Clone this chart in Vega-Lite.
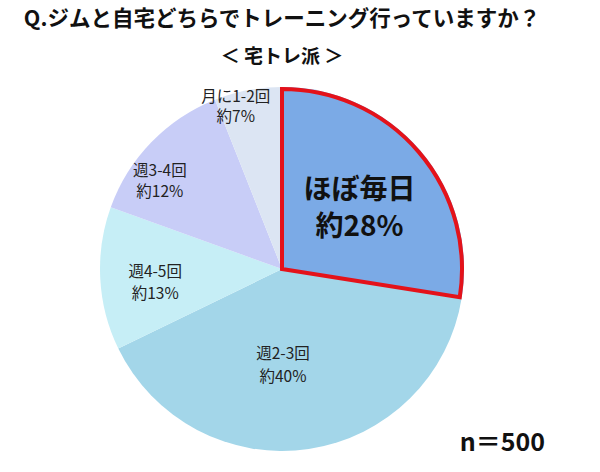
{
  "$schema": "https://vega.github.io/schema/vega-lite/v6.json",
  "padding": {"left": 0, "top": 8, "right": 0, "bottom": 0},
  "background": "white",
  "config": {
    "view": {"stroke": null},
    "font": "Noto Sans CJK JP",
    "concat": {"spacing": 0}
  },
  "title": {
    "text": "Q.ジムと自宅どちらでトレーニング行っていますか？",
    "subtitle": "＜ 宅トレ派 ＞",
    "anchor": "middle",
    "font": "Noto Sans CJK JP",
    "fontSize": 21.5,
    "fontWeight": "bold",
    "color": "#111111",
    "subtitleFont": "Noto Sans CJK JP",
    "subtitleFontSize": 19,
    "subtitleFontWeight": "bold",
    "subtitleColor": "#111111",
    "subtitlePadding": 18,
    "offset": 12
  },
  "vconcat": [
    {
      "width": 564,
      "height": 380,
      "title": {
        "text": "n＝500",
        "orient": "bottom",
        "anchor": "end",
        "font": "Noto Sans CJK JP",
        "fontSize": 25,
        "fontWeight": "bold",
        "color": "#111111",
        "offset": -28,
        "dx": -19
      },
      "data": {
        "values": [
          {"category": "ほぼ毎日", "value": 27.5, "order": 1, "label": "ほぼ毎日\n約28%"},
          {"category": "週2-3回", "value": 40.3, "order": 2, "label": "週2-3回\n約40%"},
          {"category": "週4-5回", "value": 12.7, "order": 3, "label": "週4-5回\n約13%"},
          {"category": "週3-4回", "value": 13.5, "order": 4, "label": "週3-4回\n約12%"},
          {"category": "月に1-2回", "value": 6, "order": 5, "label": "月に1-2回\n約7%"}
        ]
      },
      "encoding": {
        "theta": {"field": "value", "type": "quantitative", "stack": true},
        "order": {"field": "order", "type": "quantitative"}
      },
      "layer": [
        {
          "mark": {"type": "arc", "outerRadius": 182, "strokeWidth": 0},
          "encoding": {
            "color": {
              "field": "category",
              "type": "nominal",
              "scale": {
                "domain": ["ほぼ毎日", "週2-3回", "週4-5回", "週3-4回", "月に1-2回"],
                "range": ["#7BAAE6", "#A3D6E9", "#C6EEF6", "#C8CDF7", "#DCE5F3"]
              },
              "legend": null
            }
          }
        },
        {
          "mark": {"type": "arc", "outerRadius": 180, "fillOpacity": 0, "strokeJoin": "miter"},
          "encoding": {
            "stroke": {"condition": {"test": "datum.category === 'ほぼ毎日'", "value": "#E4121A"}, "value": null},
            "strokeWidth": {"condition": {"test": "datum.category === 'ほぼ毎日'", "value": 4}, "value": 0}
          }
        },
        {
          "mark": {"type": "text", "radius": 102, "dy": -12, "fontSize": 28, "fontWeight": "bold", "lineBreak": "\n", "lineHeight": 37, "color": "#111111"},
          "encoding": {
            "text": {"condition": {"test": "datum.category === 'ほぼ毎日'", "field": "label"}, "value": ""}
          }
        },
        {
          "mark": {"type": "text", "radius": 95, "dx": -13, "dy": -9, "fontSize": 15.5, "lineBreak": "\n", "lineHeight": 23, "color": "#222222"},
          "encoding": {
            "text": {"condition": {"test": "datum.category === '週2-3回'", "field": "label"}, "value": ""}
          }
        },
        {
          "mark": {"type": "text", "radius": 127, "dy": -4, "fontSize": 15.5, "lineBreak": "\n", "lineHeight": 22, "color": "#222222"},
          "encoding": {
            "text": {"condition": {"test": "datum.category === '週4-5回'", "field": "label"}, "value": ""}
          }
        },
        {
          "mark": {"type": "text", "radius": 152, "dx": -13, "dy": 8, "fontSize": 15.5, "lineBreak": "\n", "lineHeight": 21, "color": "#222222"},
          "encoding": {
            "text": {"condition": {"test": "datum.category === '週3-4回'", "field": "label"}, "value": ""}
          }
        },
        {
          "mark": {"type": "text", "radius": 172, "dx": -14, "dy": -3, "fontSize": 15.5, "lineBreak": "\n", "lineHeight": 20, "color": "#222222"},
          "encoding": {
            "text": {"condition": {"test": "datum.category === '月に1-2回'", "field": "label"}, "value": ""}
          }
        }
      ]
    }
  ]
}
